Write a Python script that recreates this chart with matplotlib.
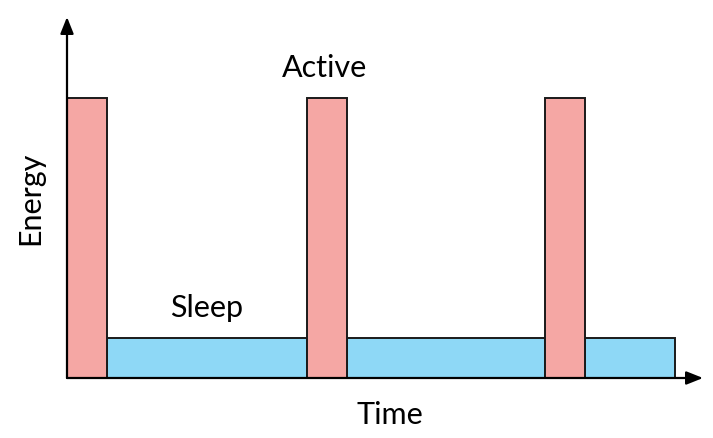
import matplotlib.pyplot as plt

# time blocks (start, width) and their energy level
active_start = [0, 6, 11.95]
active_width = [1, 1, 1]
active_energy = [7, 7, 7]

sleep_start = [1, 7, 12.95]
sleep_width = [5, 4.95, 2.25]
sleep_energy = [1, 1, 1]

fig = plt.figure(figsize=(7.13, 4.38), dpi=100)
ax = fig.add_axes([67 / 713, 60 / 438, (703 - 67) / 713, (378 - 17) / 438])
ax.set_xlim(0, 15.9)
ax.set_ylim(0, 9.025)

ax.bar(sleep_start, sleep_energy, width=sleep_width, align='edge',
       color='#8ED8F6', edgecolor='#1a1a1a', linewidth=1.4, zorder=2)
ax.bar(active_start, active_energy, width=active_width, align='edge',
       color='#F5A7A4', edgecolor='#1a1a1a', linewidth=1.4, zorder=3)

for s in ax.spines.values():
    s.set_visible(False)
ax.set_xticks([])
ax.set_yticks([])

# axis arrows
arrow = dict(arrowstyle='-|>,head_length=1.0,head_width=0.4', color='black', lw=1.6,
             shrinkA=0, shrinkB=0)
ax.annotate('', xy=(1, 0), xytext=(0, 0), xycoords='axes fraction', arrowprops=arrow, zorder=5)
ax.annotate('', xy=(0, 1), xytext=(0, 0), xycoords='axes fraction', arrowprops=arrow, zorder=5)

font = 'Lato'
fig.text(390 / 713, 1 - 415 / 438, 'Time', ha='center', va='center', fontsize=22, family=font)
fig.text(30 / 713, 1 - 198 / 438, 'Energy', ha='center', va='center', fontsize=22,
         rotation=90, family=font)
fig.text(325 / 713, 1 - 68 / 438, 'Active', ha='center', va='center', fontsize=22, family=font)
fig.text(207 / 713, 1 - 308 / 438, 'Sleep', ha='center', va='center', fontsize=22, family=font)

fig.savefig('out.png', dpi=100)
